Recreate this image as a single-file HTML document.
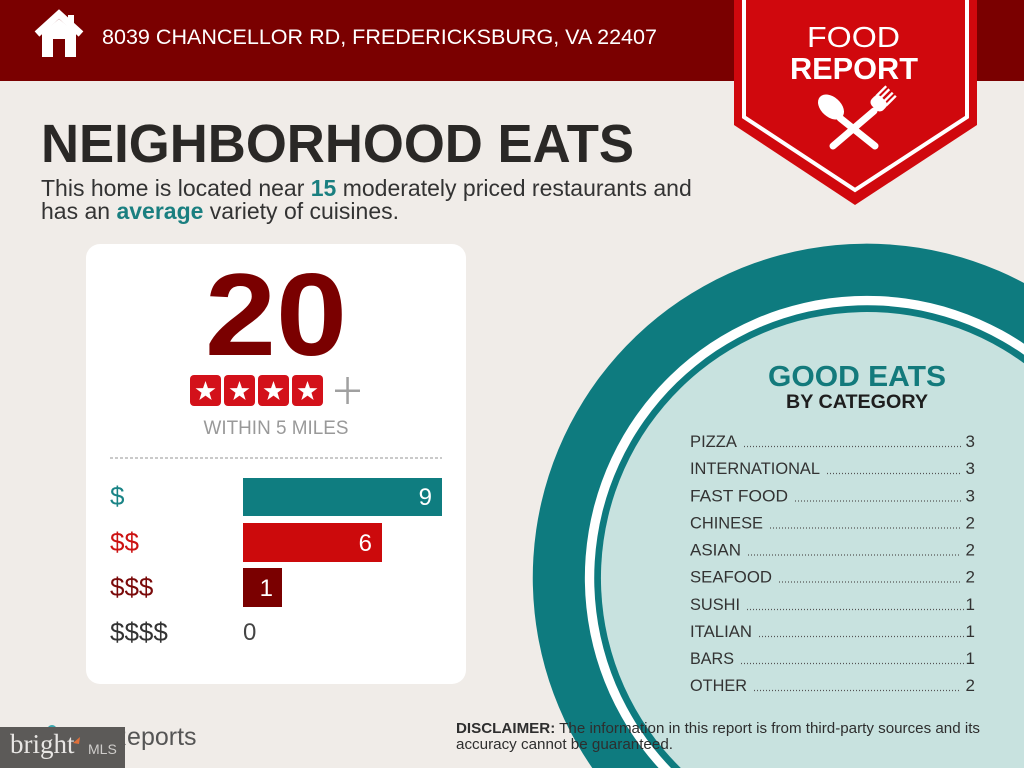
<!DOCTYPE html>
<html><head><meta charset="utf-8"><style>
html,body{margin:0;padding:0;background:#f0ece8;width:1024px;height:768px;overflow:hidden;}
svg{display:block;position:absolute;left:0;top:0;}
text{font-family:"Liberation Sans",sans-serif;}
</style></head><body>
<svg width="1024" height="768" viewBox="0 0 1024 768" xmlns="http://www.w3.org/2000/svg">
<rect x="0" y="0" width="1024" height="768" fill="#f0ece8"/>
<path d="M592.3,768 A334,334 0 0 1 1024,283 L1024,768 Z" fill="#0e7b7f"/>
<path d="M658.6,768 A282,282 0 0 1 1024,343.7 L1024,768 Z" fill="#ffffff"/>
<path d="M671,768 A273,273 0 0 1 1024,354.7 L1024,768 Z" fill="#0e7b7f"/>
<path d="M680.8,768 A266,266 0 0 1 1024,363.3 L1024,768 Z" fill="#c8e2df"/>
<rect x="0" y="0" width="1024" height="81" fill="#7a0000"/>
<polygon points="42,33 59,19 76,33 76,57 42,57" fill="#fff"/>
<rect x="53" y="39" width="12" height="18" fill="#7a0000"/>
<polyline points="37,34 59,14 81,34" fill="none" stroke="#fff" stroke-width="7" stroke-linejoin="miter"/>
<rect x="68" y="15" width="6" height="12" fill="#fff"/>
<text x="102" y="44" font-size="21.5" fill="#fff" textLength="555" lengthAdjust="spacingAndGlyphs">8039 CHANCELLOR RD, FREDERICKSBURG, VA 22407</text>
<polygon points="734,0 977,0 977,125 855,205 734,125" fill="#d0080d"/>
<polyline points="744,0 744,117 855,190 967,117 967,0" fill="none" stroke="#fff" stroke-width="4"/>
<text x="807" y="47" font-size="29" fill="#fff" textLength="93" lengthAdjust="spacingAndGlyphs">FOOD</text>
<text x="790" y="79" font-size="31" font-weight="bold" fill="#fff" textLength="128" lengthAdjust="spacingAndGlyphs">REPORT</text>
<line x1="840" y1="118" x2="875" y2="146" stroke="#fff" stroke-width="7" stroke-linecap="round"/>
<ellipse cx="831" cy="107" rx="10" ry="15" transform="rotate(-48 831 107)" fill="#fff"/>
<line x1="874" y1="111" x2="833" y2="146" stroke="#fff" stroke-width="7" stroke-linecap="round"/>
<g transform="translate(879,103) rotate(45)">
<rect x="-8" y="-6" width="16" height="13" rx="5" fill="#fff"/>
<rect x="-8" y="-17" width="2.4" height="14" fill="#fff"/>
<rect x="-3.6" y="-17" width="2.4" height="14" fill="#fff"/>
<rect x="1.2" y="-17" width="2.4" height="14" fill="#fff"/>
<rect x="5.6" y="-17" width="2.4" height="14" fill="#fff"/>
</g>
<text x="41" y="162" font-size="53.5" font-weight="bold" fill="#2a2826" textLength="593" lengthAdjust="spacingAndGlyphs">NEIGHBORHOOD EATS</text>
<text x="41" y="196" font-size="23" fill="#333">This home is located near <tspan font-weight="bold" fill="#1a7f80">15</tspan> moderately priced restaurants and</text>
<text x="41" y="219" font-size="23" fill="#333">has an <tspan font-weight="bold" fill="#1a7f80">average</tspan> variety of cuisines.</text>
<rect x="86" y="244" width="380" height="440" rx="14" fill="#fff"/>
<text x="276" y="355" font-size="117" font-weight="bold" fill="#7a0000" text-anchor="middle" textLength="142" lengthAdjust="spacingAndGlyphs">20</text>
<g fill="#d3111a">
<rect x="190" y="375" width="31" height="31" rx="4"/>
<rect x="224" y="375" width="31" height="31" rx="4"/>
<rect x="258" y="375" width="31" height="31" rx="4"/>
<rect x="292" y="375" width="31" height="31" rx="4"/>
</g>
<g fill="#fff">
<polygon transform="translate(205.5,391.5) scale(0.95)" points="0,-11 2.59,-3.56 10.46,-3.4 4.18,1.36 6.47,8.9 0,4.4 -6.47,8.9 -4.18,1.36 -10.46,-3.4 -2.59,-3.56"/>
<polygon transform="translate(239.5,391.5) scale(0.95)" points="0,-11 2.59,-3.56 10.46,-3.4 4.18,1.36 6.47,8.9 0,4.4 -6.47,8.9 -4.18,1.36 -10.46,-3.4 -2.59,-3.56"/>
<polygon transform="translate(273.5,391.5) scale(0.95)" points="0,-11 2.59,-3.56 10.46,-3.4 4.18,1.36 6.47,8.9 0,4.4 -6.47,8.9 -4.18,1.36 -10.46,-3.4 -2.59,-3.56"/>
<polygon transform="translate(307.5,391.5) scale(0.95)" points="0,-11 2.59,-3.56 10.46,-3.4 4.18,1.36 6.47,8.9 0,4.4 -6.47,8.9 -4.18,1.36 -10.46,-3.4 -2.59,-3.56"/>
</g>
<rect x="335" y="389.5" width="25" height="2.5" fill="#a0a0a0"/>
<rect x="346.3" y="377" width="2.5" height="27" fill="#a0a0a0"/>
<text x="276" y="434" font-size="19" fill="#999" text-anchor="middle" textLength="145" lengthAdjust="spacingAndGlyphs">WITHIN 5 MILES</text>
<line x1="110" y1="458" x2="442" y2="458" stroke="#aaa" stroke-width="1.2" stroke-dasharray="3 2"/>
<rect x="243" y="478" width="199" height="38" fill="#0f7d80"/>
<rect x="243" y="523" width="139" height="39" fill="#cc0a0c"/>
<rect x="243" y="568" width="39" height="39" fill="#7a0000"/>
<text x="432" y="505" font-size="24" fill="#fff" text-anchor="end">9</text>
<text x="372" y="551" font-size="24" fill="#fff" text-anchor="end">6</text>
<text x="273" y="596" font-size="24" fill="#fff" text-anchor="end">1</text>
<text x="243" y="640" font-size="24" fill="#444">0</text>
<text x="110" y="505" font-size="26" fill="#1a8486">$</text>
<text x="110" y="551" font-size="26" fill="#cc1212">$$</text>
<text x="110" y="596" font-size="26" fill="#7a0a0a">$$$</text>
<text x="110" y="641" font-size="26" fill="#333">$$$$</text>
<text x="857" y="386" font-size="29" font-weight="bold" fill="#137a7c" text-anchor="middle" textLength="178" lengthAdjust="spacingAndGlyphs">GOOD EATS</text>
<text x="857" y="408" font-size="19.5" font-weight="bold" fill="#1e1e1e" text-anchor="middle" textLength="142" lengthAdjust="spacingAndGlyphs">BY CATEGORY</text>
<g font-size="17" fill="#333">
<text x="690" y="447" textLength="47" lengthAdjust="spacingAndGlyphs">PIZZA</text>
<text x="690" y="474" textLength="130" lengthAdjust="spacingAndGlyphs">INTERNATIONAL</text>
<text x="690" y="501.5" textLength="98" lengthAdjust="spacingAndGlyphs">FAST FOOD</text>
<text x="690" y="528.5" textLength="73" lengthAdjust="spacingAndGlyphs">CHINESE</text>
<text x="690" y="555.5" textLength="51" lengthAdjust="spacingAndGlyphs">ASIAN</text>
<text x="690" y="582.5" textLength="82" lengthAdjust="spacingAndGlyphs">SEAFOOD</text>
<text x="690" y="610" textLength="50" lengthAdjust="spacingAndGlyphs">SUSHI</text>
<text x="690" y="637" textLength="62" lengthAdjust="spacingAndGlyphs">ITALIAN</text>
<text x="690" y="664" textLength="44" lengthAdjust="spacingAndGlyphs">BARS</text>
<text x="690" y="691" textLength="57" lengthAdjust="spacingAndGlyphs">OTHER</text>
</g>
<g font-size="17" fill="#333" text-anchor="end">
<text x="975" y="447">3</text>
<text x="975" y="474">3</text>
<text x="975" y="501.5">3</text>
<text x="975" y="528.5">2</text>
<text x="975" y="555.5">2</text>
<text x="975" y="582.5">2</text>
<text x="975" y="610">1</text>
<text x="975" y="637">1</text>
<text x="975" y="664">1</text>
<text x="975" y="691">2</text>
</g>
<g stroke="#555" stroke-width="1.3" stroke-dasharray="1 2">
<line x1="744" y1="446.5" x2="961" y2="446.5"/>
<line x1="827" y1="473.5" x2="961" y2="473.5"/>
<line x1="795" y1="501" x2="961" y2="501"/>
<line x1="770" y1="528" x2="961" y2="528"/>
<line x1="748" y1="555" x2="961" y2="555"/>
<line x1="779" y1="582" x2="961" y2="582"/>
<line x1="747" y1="609.5" x2="964" y2="609.5"/>
<line x1="759" y1="636.5" x2="964" y2="636.5"/>
<line x1="741" y1="663.5" x2="964" y2="663.5"/>
<line x1="754" y1="690.5" x2="961" y2="690.5"/>
</g>
<text x="456" y="733" font-size="15" fill="#2e2e2e" textLength="524" lengthAdjust="spacingAndGlyphs"><tspan font-weight="bold">DISCLAIMER:</tspan> The information in this report is from third-party sources and its</text>
<text x="456" y="749" font-size="15" fill="#2e2e2e" textLength="217" lengthAdjust="spacingAndGlyphs">accuracy cannot be guaranteed.</text>
<circle cx="52" cy="730" r="5" fill="#3aa8b0"/>
<text x="109" y="745" font-size="25" fill="#555">Reports</text>
<rect x="0" y="727" width="125" height="41" fill="#5c5a58"/>
<text x="10" y="753" font-size="27" fill="#e8e6e4" style="font-family:'Liberation Serif',serif">bright</text>
<polygon points="73,743 80,737 79,744" fill="#e0703a"/>
<text x="88" y="754" font-size="14" fill="#cfcdcb">MLS</text>
</svg>
</body></html>
